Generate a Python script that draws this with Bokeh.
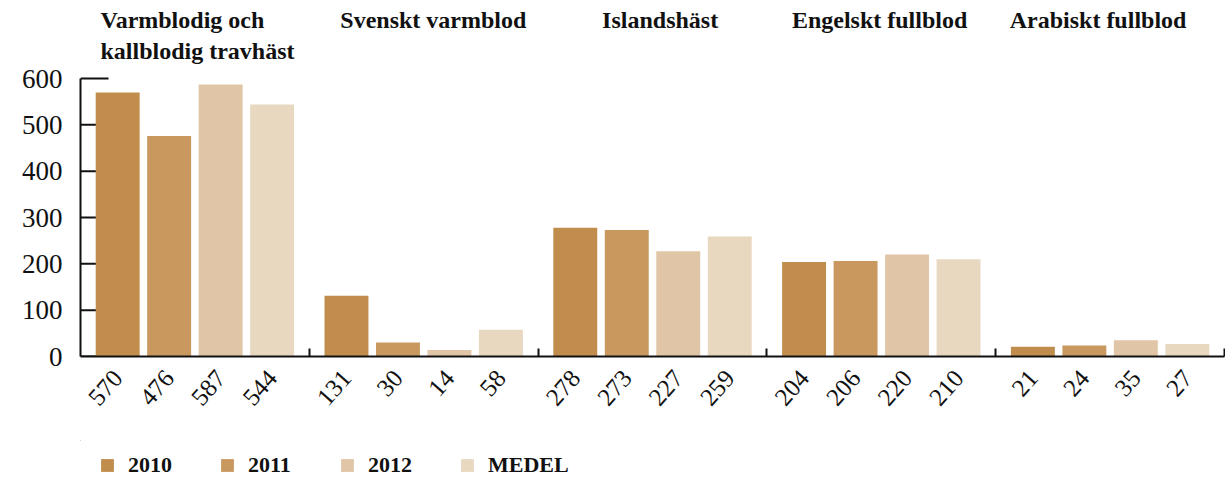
from bokeh.plotting import figure
from bokeh.layouts import column
from bokeh.models import Range1d, FixedTicker, Legend, LegendItem, CustomJSTickFormatter, ColumnDataSource
from bokeh.core.properties import value
from bokeh.embed import file_html
from bokeh.resources import INLINE

groups = ["Varmblodig och\nkallblodig travhäst", "Svenskt varmblod", "Islandshäst",
          "Engelskt fullblod", "Arabiskt fullblod"]
series = ["2010", "2011", "2012", "MEDEL"]
v2010 = [570, 131, 278, 204, 21]
v2011 = [476, 30, 273, 206, 24]
v2012 = [587, 14, 227, 220, 35]
medel = [544, 58, 259, 210, 27]
y_ticks = [0, 100, 200, 300, 400, 500, 600]
colors = ["#C18D4C", "#C8985E", "#E0C6A6", "#E8D8C0"]

all_series = [v2010, v2011, v2012, medel]
n_groups = len(groups)
step = 0.225
bar_w = 0.192
title_dx_px = [20, 31, 64, 25, 14]   # left indent of each group title (style)

FONT = "Liberation Serif"

W = 1225
H1, H2 = 440, 38
LEFT, RIGHT, TOP, BOTTOM = 80, 1, 0, 84
frame_h = H1 - TOP - BOTTOM
frame_w = W - LEFT - RIGHT
y_end = 600 * frame_h / 278.0
px_y = y_end / frame_h          # data units per pixel (y)
px_x = n_groups / frame_w       # data units per pixel (x)

p = figure(width=W, height=H1, output_backend="svg", toolbar_location=None,
           x_range=Range1d(0, n_groups), y_range=Range1d(0, y_end),
           min_border_left=LEFT, min_border_right=RIGHT, min_border_top=TOP,
           min_border_bottom=BOTTOM)
p.outline_line_color = None
p.xgrid.visible = False
p.ygrid.visible = False
p.background_fill_color = "white"
p.border_fill_color = "white"

# inner y ticks (drawn under the bars)
p.segment(x0=[0] * len(y_ticks), x1=[28 * px_x] * len(y_ticks), y0=y_ticks, y1=y_ticks,
          line_color="#111111", line_width=2)

centers = []
labels = []
for gi in range(n_groups):
    for si in range(len(series)):
        centers.append(gi + 0.5 + (si - 1.5) * step)
        labels.append(str(all_series[si][gi]))

sources = []
for si, (name, vals) in enumerate(zip(series, all_series)):
    xs = [gi + 0.5 + (si - 1.5) * step for gi in range(n_groups)]
    src = ColumnDataSource(dict(x=xs, top=vals))
    sources.append(src)
    p.vbar(x="x", top="top", width=bar_w, bottom=0, source=src,
           fill_color=colors[si], line_color=None)

# group titles
tsrc = ColumnDataSource(dict(x=[gi + title_dx_px[gi] * px_x for gi in range(n_groups)],
                             y=[y_end - 6 * px_y] * n_groups, t=groups))
p.text(x="x", y="y", text="t", source=tsrc, text_font=value(FONT), text_font_style="bold",
       text_font_size="24px", text_align="left", text_baseline="top",
       text_line_height=1.22, text_color="#111111")

# y axis
ya = p.yaxis[0]
ya.ticker = FixedTicker(ticks=y_ticks)
ya.bounds = (0, 600)
ya.axis_line_width = 2
ya.axis_line_color = "#111111"
ya.major_tick_line_color = None
ya.major_tick_in = 0
ya.major_tick_out = 0
ya.minor_tick_line_color = None
ya.major_label_text_font = FONT
ya.major_label_text_font_size = "27px"
ya.major_label_text_color = "#111111"
ya.major_label_standoff = 18

# x axis
xa = p.xaxis[0]
xa.ticker = FixedTicker(ticks=centers, minor_ticks=[1, 2, 3, 4, 5])
xa.formatter = CustomJSTickFormatter(args=dict(labels=labels), code="return labels[index];")
xa.axis_line_width = 2
xa.axis_line_color = "#111111"
xa.major_tick_line_color = None
xa.major_tick_in = 0
xa.major_tick_out = 0
xa.minor_tick_line_width = 2
xa.minor_tick_line_color = "#111111"
xa.minor_tick_in = 8
xa.minor_tick_out = 0
xa.major_label_orientation = 0.85
xa.major_label_text_font = FONT
xa.major_label_text_font_size = "25px"
xa.major_label_text_color = "#111111"
xa.major_label_standoff = 17

# legend strip (bars re-used but kept far out of view: only their legend swatches show)
p2 = figure(width=W, height=H2, output_backend="svg", toolbar_location=None,
            x_axis_type=None, y_axis_type=None,
            x_range=Range1d(100, 101), y_range=Range1d(-2000, -1000),
            min_border_left=LEFT, min_border_right=RIGHT, min_border_top=0, min_border_bottom=0)
p2.outline_line_color = None
p2.xgrid.visible = False
p2.ygrid.visible = False
p2.background_fill_color = "white"
p2.border_fill_color = "white"
items = []
for si, name in enumerate(series):
    r = p2.vbar(x="x", top="top", width=bar_w, bottom=0, source=sources[si],
                fill_color=colors[si], line_color=None)
    items.append(LegendItem(label=name, renderers=[r]))

legend = Legend(items=items, orientation="horizontal", location=(19, 0),
                glyph_width=16, glyph_height=16, label_standoff=13, label_width=62,
                spacing=29, padding=0, margin=0,
                border_line_color=None, background_fill_alpha=0,
                label_text_font=FONT, label_text_font_style="bold",
                label_text_font_size="22px", label_text_color="#111111")
p2.add_layout(legend)

open("out.html", "w").write(file_html(column(p, p2, spacing=0), INLINE))
